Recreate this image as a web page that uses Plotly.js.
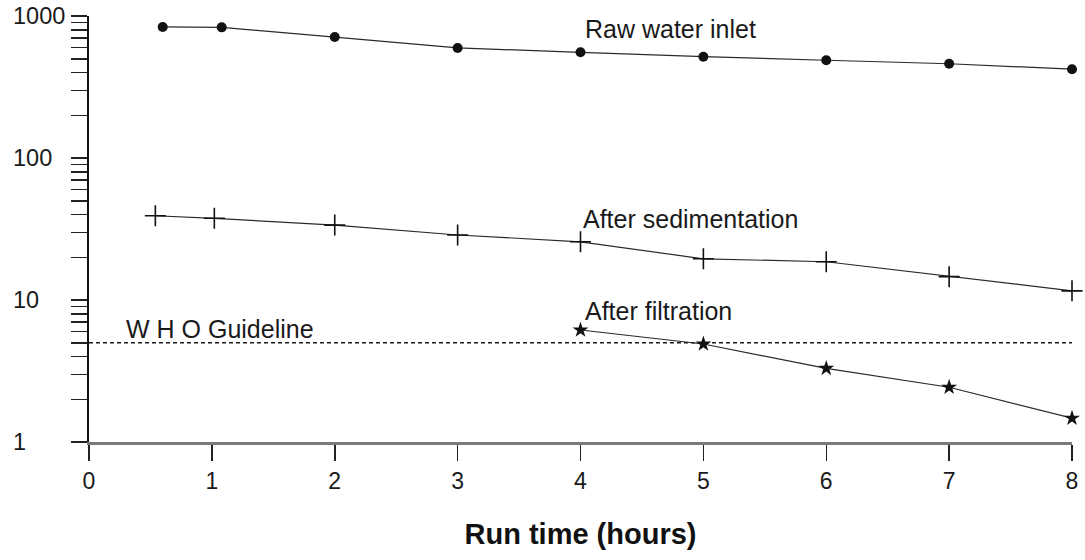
<!DOCTYPE html>
<html>
<head>
<meta charset="utf-8">
<script src="https://cdn.plot.ly/plotly-3.0.1.min.js"></script>
<style>
  html, body { margin: 0; padding: 0; background: #ffffff; }
  #chart { width: 1085px; height: 560px; }
</style>
</head>
<body>
<div id="chart"></div>
<script>
// ---- data ----
const rawHours = [0.6, 1.08, 2, 3, 4, 5, 6, 7, 8];
const rawValues = [837, 832, 711, 596, 555, 517, 488, 461, 422];

const sedHours = [0.54, 1.02, 2, 3, 4, 5, 6, 7, 8];
const sedValues = [39.2, 37.6, 33.7, 28.7, 25.7, 19.5, 18.6, 14.6, 11.6];

const filtHours = [4, 5, 6, 7, 8];
const filtValues = [6.15, 4.9, 3.3, 2.43, 1.47];

const guidelineHours = [0, 8];
const guidelineValue = 5;

const xTickVals = [0, 1, 2, 3, 4, 5, 6, 7, 8];
const xTickLabels = ['0', '1', '2', '3', '4', '5', '6', '7', '8'];

const yMajorTicks = [1, 10, 100, 1000];
const yTickLabels = ['1', '10', '100', '1000'];
const yMinorDigits = [2, 3, 4, 5, 6, 7, 8, 9];

const seriesLabels = ['Raw water inlet', 'After sedimentation', 'After filtration', 'W H O Guideline'];
const xTitle = 'Run time (hours)';

// ---- build ----
const yAllTicks = [];
yMajorTicks.forEach((d, i) => {
  yAllTicks.push(d);
  if (i < yMajorTicks.length - 1) yMinorDigits.forEach(m => yAllTicks.push(d * m));
});

const FONT = 'Liberation Sans, Arial, Helvetica, sans-serif';
const lineCol = '#2a2a2a';

const traces = [
  {
    x: guidelineHours, y: guidelineHours.map(() => guidelineValue),
    mode: 'lines', type: 'scatter',
    line: { color: '#1a1a1a', width: 1.3, dash: '4px,3px' },
    hoverinfo: 'skip', cliponaxis: false
  },
  {
    x: rawHours, y: rawValues, mode: 'lines+markers', type: 'scatter',
    line: { color: lineCol, width: 1.2 },
    marker: { symbol: 'circle', size: 10, color: '#111' },
    cliponaxis: false
  },
  {
    x: sedHours, y: sedValues, mode: 'lines+markers', type: 'scatter',
    line: { color: lineCol, width: 1.2 },
    marker: { symbol: 'cross-thin', size: 15, color: '#111', line: { color: '#111', width: 1.6 } },
    cliponaxis: false
  },
  {
    x: filtHours, y: filtValues, mode: 'lines+markers', type: 'scatter',
    line: { color: lineCol, width: 1.2 },
    marker: { symbol: 'star', size: 12, color: '#111', line: { width: 0 } },
    cliponaxis: false
  }
];

const plotL = 89, plotR = 1072, plotT = 16, plotB = 442;
const annFont = { family: FONT, size: 25, color: '#1a1a1a' };

const annotations = [
  { x: 4.03, y: 2.905, text: seriesLabels[0] },
  { x: 4.01, y: 1.567, text: seriesLabels[1] },
  { x: 4.03, y: 0.920, text: seriesLabels[2] },
  { x: 0.29, y: 0.793, text: seriesLabels[3] }
].map(a => Object.assign({
  xref: 'x', yref: 'y', xanchor: 'left', yanchor: 'middle',
  showarrow: false, font: annFont, borderpad: 0
}, a));

// left-aligned y tick labels
yMajorTicks.forEach((v, i) => {
  annotations.push({
    xref: 'paper', x: (12 - plotL) / (plotR - plotL), xanchor: 'left',
    yref: 'y', y: Math.log10(v), yanchor: 'middle',
    text: yTickLabels[i], showarrow: false, borderpad: 0,
    font: { family: FONT, size: 23.5, color: '#1a1a1a' }
  });
});

const layout = {
  width: 1085, height: 560,
  paper_bgcolor: '#ffffff', plot_bgcolor: '#ffffff',
  margin: { l: plotL, r: 1085 - plotR, t: plotT, b: 560 - plotB },
  showlegend: false,
  font: { family: FONT, color: '#1a1a1a' },
  xaxis: {
    range: [0, 8], fixedrange: true,
    tickvals: xTickVals, ticktext: xTickLabels,
    ticks: 'outside', ticklen: 16, tickwidth: 1.5, tickcolor: '#222',
    tickfont: { family: FONT, size: 23, color: '#1a1a1a' },
    showgrid: false, zeroline: false,
    showline: true, linecolor: '#7a7a7a', linewidth: 3,
    automargin: false,
    title: { text: xTitle, font: { family: FONT, size: 29, color: '#111', weight: 'bold' }, standoff: 32 }
  },
  yaxis: {
    type: 'log', range: [0, 3], fixedrange: true,
    tickvals: yAllTicks, showticklabels: false,
    ticks: 'outside', ticklen: 16, tickwidth: 1.5, tickcolor: '#222',
    showgrid: false, zeroline: false,
    showline: true, linecolor: '#111', linewidth: 1.8
  },
  annotations: annotations
};

Plotly.newPlot('chart', traces, layout, { displayModeBar: false, staticPlot: true });
</script>
</body>
</html>
